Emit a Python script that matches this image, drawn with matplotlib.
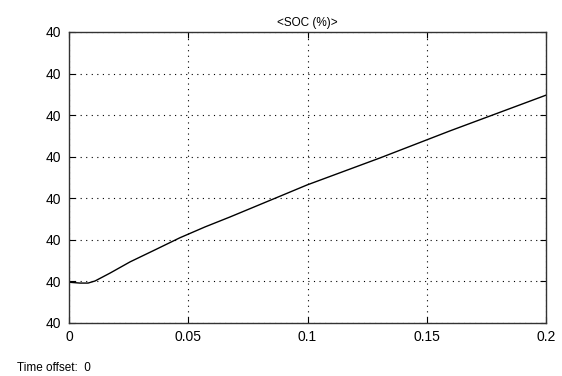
import matplotlib
matplotlib.use("Agg")
import matplotlib.pyplot as plt

# SOC curve (y in grid units, every label reads "40")
t = [0.0, 0.0046, 0.008, 0.0109, 0.0172, 0.0256, 0.0361, 0.0465, 0.057,
     0.0675, 0.0885, 0.0998, 0.1304, 0.1597, 0.2]
soc = [0.98, 0.96, 0.96, 1.01, 1.20, 1.47, 1.76, 2.05, 2.31,
       2.55, 3.05, 3.32, 3.97, 4.62, 5.48]

xticks = [0, 0.05, 0.1, 0.15, 0.2]
xticklabels = ["0", "0.05", "0.1", "0.15", "0.2"]
yticks = [0, 1, 2, 3, 4, 5, 6, 7]
yticklabels = ["40"] * 8

plt.rcParams["font.family"] = ["Liberation Sans", "DejaVu Sans"]

fig = plt.figure(figsize=(5.62, 3.76), dpi=100)
ax = fig.add_axes([0.1228, 0.141, 0.8488, 0.774])

ax.plot(t, soc, color="black", linewidth=1.0)

ax.set_xlim(0, 0.2)
ax.set_ylim(0, 7)
ax.set_xticks(xticks)
ax.set_xticklabels(xticklabels)
ax.set_yticks(yticks)
ax.set_yticklabels(yticklabels)
ax.tick_params(direction="in", length=4, labelsize=10, top=True, right=True,
               colors="black")
ax.tick_params(axis="x", pad=5)
ax.tick_params(axis="y", pad=6)
for spine in ax.spines.values():
    spine.set_linewidth(1.0)
    spine.set_color("#333333")

ax.grid(True, color="black", linestyle=(0, (1, 4)), linewidth=0.8)

ax.set_title("<SOC (%)>", fontsize=8.5, pad=4)
fig.text(0.03, 0.02, "Time offset:  0", fontsize=8.5, va="center")

fig.savefig("out.png", dpi=100)
